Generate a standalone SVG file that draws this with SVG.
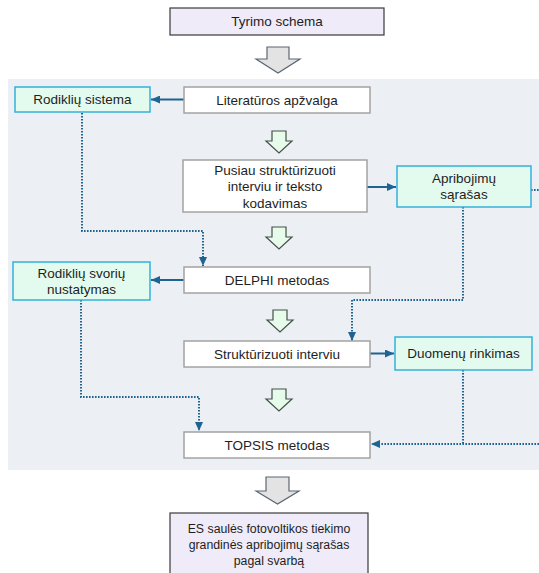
<svg xmlns="http://www.w3.org/2000/svg" width="539" height="573" viewBox="0 0 539 573">
<defs>
<style>
text{font-family:"Liberation Sans",Arial,sans-serif;font-size:13.5px;fill:#1e1e1e;text-anchor:middle;dominant-baseline:central}
.small{font-size:12.3px}
.purple{fill:#EFEBF8;stroke:#3a3a3a;stroke-width:1.2}
.white{fill:#ffffff;stroke:#a3a3a3;stroke-width:1.5}
.green{fill:#E3FBEF;stroke:#35B1DB;stroke-width:1.5}
.bigarrow{fill:#E3E3E3;stroke:#5a6670;stroke-width:1.2;stroke-linejoin:miter}
.smallarrow{fill:#E6FBEA;stroke:#44504a;stroke-width:1.2;stroke-linejoin:miter}
.solid{fill:none;stroke:#1F6390;stroke-width:2}
.dotted{fill:none;stroke:#1F6390;stroke-width:2;stroke-dasharray:1.6 1.4}
</style>
<marker id="ah" markerUnits="userSpaceOnUse" markerWidth="9" markerHeight="8" refX="9" refY="4" orient="auto">
<path d="M0,0 L9,4 L0,8 z" fill="#1F6390"/>
</marker>
</defs>
<rect x="8" y="79" width="531" height="391" fill="#ECEFF3"/>
<g id="connectors">
<line class="solid" x1="184" y1="99.5" x2="151" y2="99.5" marker-end="url(#ah)"/>
<line class="solid" x1="367" y1="187" x2="396" y2="187" marker-end="url(#ah)"/>
<line class="solid" x1="184" y1="280" x2="151" y2="280" marker-end="url(#ah)"/>
<line class="solid" x1="370" y1="353.5" x2="394" y2="353.5" marker-end="url(#ah)"/>
<polyline class="dotted" points="82,113 82,231 203,231 203,266" marker-end="url(#ah)"/>
<polyline class="dotted" points="463,207 463,300 352,300 352,341" marker-end="url(#ah)"/>
<polyline class="dotted" points="81,300 81,397 199,397 199,431" marker-end="url(#ah)"/>
<polyline class="dotted" points="463,370 463,444"/>
<line class="dotted" x1="539" y1="444" x2="371" y2="444" marker-end="url(#ah)"/>
<line class="dotted" x1="531" y1="190" x2="539" y2="190"/>
</g>
<g id="flow-arrows">
<polygon class="bigarrow" points="267,47 289,47 289,59 300,59 278,73 256,59 267,59"/>
<polygon class="smallarrow" points="272,131 286,131 286,141 292,141 279,153 266,141 272,141"/>
<polygon class="smallarrow" points="272,227 286,227 286,237 292,237 279,249 266,237 272,237"/>
<polygon class="smallarrow" points="273,310 287,310 287,320 293,320 280,332 267,320 273,320"/>
<polygon class="smallarrow" points="272,389 286,389 286,399 292,399 279,411 266,399 272,399"/>
<polygon class="bigarrow" points="266,477 289,477 289,491 299,491 277.5,504 256,491 266,491"/>
</g>
<g id="tyrimo-schema">
<rect class="purple" x="170" y="8" width="214" height="27"/>
<text x="277" y="21.5">Tyrimo schema</text>
</g>
<g id="rodikliu-sistema">
<rect class="green" x="15" y="87" width="135" height="25"/>
<text x="82.5" y="99.5">Rodiklių sistema</text>
</g>
<g id="literaturos-apzvalga">
<rect class="white" x="184" y="87" width="186" height="26"/>
<text x="277" y="100">Literatūros apžvalga</text>
</g>
<g id="pusiau">
<rect class="white" x="183" y="160" width="184" height="52"/>
<text x="275" y="170">Pusiau struktūrizuoti</text>
<text x="275" y="186.5">interviu ir teksto</text>
<text x="275" y="203">kodavimas</text>
</g>
<g id="apribojimu-sarasas">
<rect class="green" x="397" y="166" width="134" height="41"/>
<text x="464" y="178">Apribojimų</text>
<text x="464" y="194.5">sąrašas</text>
</g>
<g id="rodikliu-svoriu">
<rect class="green" x="13" y="262" width="137" height="38"/>
<text x="81.5" y="273">Rodiklių svorių</text>
<text x="81.5" y="289.5">nustatymas</text>
</g>
<g id="delphi">
<rect class="white" x="184" y="267" width="186" height="26"/>
<text x="277" y="280">DELPHI metodas</text>
</g>
<g id="strukturizuoti">
<rect class="white" x="184" y="341" width="186" height="26"/>
<text x="277" y="354">Struktūrizuoti interviu</text>
</g>
<g id="duomenu-rinkimas">
<rect class="green" x="395" y="337" width="137" height="33"/>
<text x="463.5" y="353.5">Duomenų rinkimas</text>
</g>
<g id="topsis">
<rect class="white" x="184" y="432" width="186" height="26"/>
<text x="277" y="445">TOPSIS metodas</text>
</g>
<g id="rezultatas">
<rect class="purple" x="170" y="513" width="198" height="64" stroke="#555"/>
<text class="small" x="269" y="528.5">ES saulės fotovoltikos tiekimo</text>
<text class="small" x="269" y="544.5">grandinės apribojimų sąrašas</text>
<text class="small" x="269" y="560.5">pagal svarbą</text>
</g>
</svg>
